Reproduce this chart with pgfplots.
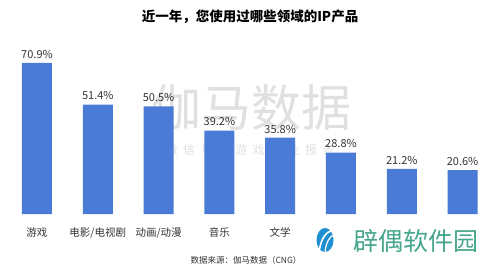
\documentclass[border=0pt]{standalone}
\usepackage{pgfplots}
\pgfplotsset{compat=1.18}
\usepackage{fontspec}
\setmainfont{Noto Sans CJK SC}
\newfontfamily\wmfont[LetterSpace=45]{Noto Sans CJK SC}
\definecolor{barblue}{HTML}{4A7BD6}
\definecolor{logogreen}{HTML}{45A68C}
\definecolor{logoblue}{HTML}{1E8FD0}
\definecolor{wm}{HTML}{E0E0E0}
\definecolor{lbl}{HTML}{333333}
\begin{document}
\begin{tikzpicture}[x=1pt,y=1pt]
\useasboundingbox (0,0) rectangle (500,268);
\node[font=\fontsize{13.5}{14}\selectfont\bfseries, text=black] at (250,251) {近一年，您使用过哪些领域的IP产品};
\node[font=\fontsize{50}{50}\selectfont, text=wm] at (251,160) {伽马数据};
\node[font=\wmfont\fontsize{12}{12}\selectfont, text=wm] at (250,118) {微信号：游戏产业报告};
\begin{axis}[
  scale only axis, width=486.4pt, height=170.4pt,
  at={(6.6pt,54pt)}, anchor=south west,
  xmin=-0.5, xmax=7.5, ymin=0, ymax=80,
  axis line style={draw=none}, tick style={draw=none},
  ytick=\empty,
  xtick={0,...,7},
  xticklabels={游戏,电影/电视剧,动画/动漫,音乐,文学,{},{},{}},
  xticklabel style={font=\fontsize{10.5}{11}\selectfont, text=lbl, yshift=-6pt},
  ybar, bar width=30pt,
  point meta=explicit symbolic,
  nodes near coords,
  nodes near coords style={font=\fontsize{11}{11}\selectfont, text=lbl, yshift=1pt},
  clip=false,
]
\addplot[fill=barblue, draw=none] coordinates {
  (0,70.9) [70.9\%]
  (1,51.4) [51.4\%]
  (2,50.5) [50.5\%]
  (3,39.2) [39.2\%]
  (4,35.8) [35.8\%]
  (5,28.8) [28.8\%]
  (6,21.2) [21.2\%]
  (7,20.6) [20.6\%]
};
\end{axis}
\node[anchor=west, font=\fontsize{8.5}{9}\selectfont, text=lbl] at (187,8) {数据来源：伽马数据（CNG）};
\fill[white] (299,0) rectangle (500,43);
\node[font=\fontsize{25}{25}\selectfont, text=logogreen] at (416,27) {辟偶软件园};
\fill[logoblue] (325,28) ellipse (8.5pt and 12pt);
\draw[white, line width=1.6pt] (319,16) .. controls (321,30) and (326,36) .. (333,38);
\draw[white, line width=1.2pt] (325,16) .. controls (326,26) and (330,32) .. (334,33);
\end{tikzpicture}
\end{document}
